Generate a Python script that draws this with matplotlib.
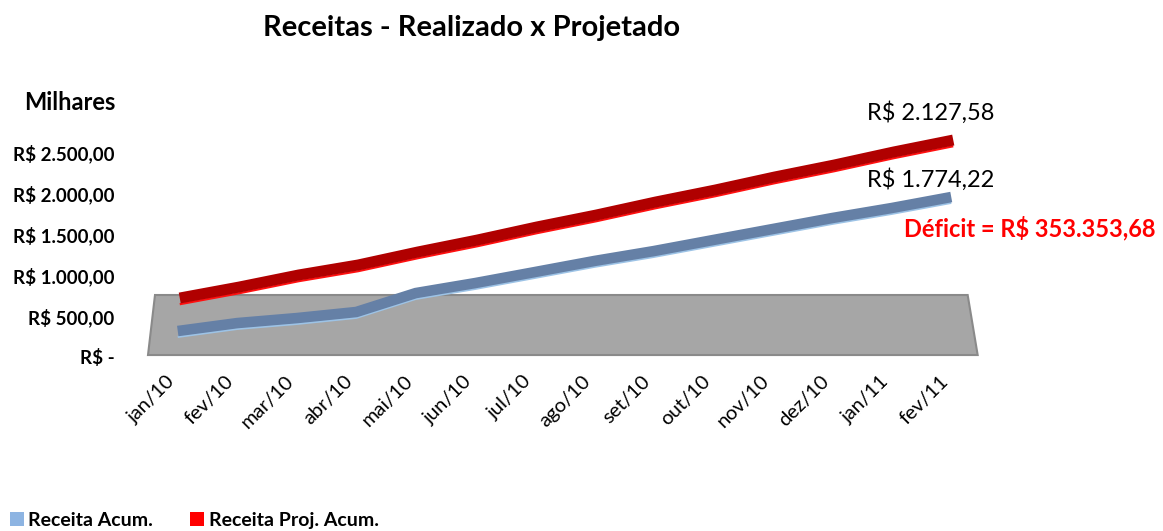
import matplotlib
matplotlib.use("Agg")
import matplotlib.pyplot as plt
from matplotlib.patches import Polygon, Patch
from matplotlib.transforms import offset_copy

plt.rcParams['font.family'] = ['Lato', 'DejaVu Sans']

months = ["jan/10", "fev/10", "mar/10", "abr/10", "mai/10", "jun/10", "jul/10",
          "ago/10", "set/10", "out/10", "nov/10", "dez/10", "jan/11", "fev/11"]
receita_acum = [140, 237, 298, 372, 603, 725, 859, 994, 1115, 1250, 1384, 1518, 1640, 1774.22]
receita_proj_acum = [201, 335, 482, 604, 762, 908, 1067, 1213, 1372, 1518, 1677, 1823, 1982, 2127.58]
y_ticks = [0, 500, 1000, 1500, 2000, 2500]
y_ticklabels = ["R$ -", "R$ 500,00", "R$ 1.000,00", "R$ 1.500,00", "R$ 2.000,00", "R$ 2.500,00"]
title = "Receitas - Realizado x Projetado"
deficit_text = "Déficit = R$ 353.353,68"


def brl(v):
    s = f"{v:,.2f}"
    s = s.replace(",", "X").replace(".", ",").replace("X", ".")
    return "R$ " + s


W, H = 1163, 531
fig = plt.figure(figsize=(W / 100, H / 100), dpi=100)
ax = fig.add_axes([148 / W, 174 / H, 833 / W, 246 / H])
ax.set_xlim(-0.5, 13.5)
ax.set_ylim(0, 3000)
for s in ax.spines.values():
    s.set_visible(False)

# floor (3D look)
floor = Polygon([(0.0, 0.008), (0.0084, 0.252), (0.984, 0.252), (0.996, 0.008)],
                closed=True, transform=ax.transAxes, facecolor="#A6A6A6",
                edgecolor="#8A8A8A", lw=1.5, zorder=1, clip_on=False)
ax.add_patch(floor)

x = list(range(len(months)))

# depth offsets (pixels) to mimic the 3D series depth
red_tr = offset_copy(ax.transData, fig, x=2, y=42.5, units='dots')
red_edge = offset_copy(ax.transData, fig, x=2, y=42.5 - 6.2, units='dots')
blue_tr = offset_copy(ax.transData, fig, x=0, y=14.5, units='dots')
blue_edge = offset_copy(ax.transData, fig, x=0, y=14.5 - 5.8, units='dots')

ax.plot(x, receita_proj_acum, color="#FF1010", lw=1.6, transform=red_edge,
        solid_capstyle='butt', zorder=3, clip_on=False)
ax.plot(x, receita_proj_acum, color="#B00000", lw=7.9, transform=red_tr,
        solid_capstyle='butt', solid_joinstyle='miter', zorder=4, clip_on=False)

ax.plot(x, receita_acum, color="#9DC3E6", lw=1.6, transform=blue_edge,
        solid_capstyle='butt', zorder=3, clip_on=False)
ax.plot(x, receita_acum, color="#6580A6", lw=7.6, transform=blue_tr,
        solid_capstyle='butt', solid_joinstyle='miter', zorder=4, clip_on=False)

# y axis
ax.set_yticks(y_ticks)
ax.set_yticklabels(y_ticklabels, fontsize=13.5, fontweight='bold')
ax.tick_params(axis='y', length=0, pad=24)

# x axis
ax.set_xticks(x)
ax.set_xticklabels(months, rotation=45, ha='right', va='top', fontsize=14.5)
ax.tick_params(axis='x', length=0, pad=11)
for lbl in ax.get_xticklabels():
    lbl.set_transform(lbl.get_transform() + offset_copy(fig.dpi_scale_trans, fig, x=3, y=0, units='dots') - fig.dpi_scale_trans)

# data labels
ax.annotate(brl(receita_proj_acum[-1]), xy=(x[-1], receita_proj_acum[-1]),
            xytext=(-21, 70.5), textcoords='offset pixels', ha='center', va='center',
            fontsize=17, color="#000000", annotation_clip=False)
ax.annotate(brl(receita_acum[-1]), xy=(x[-1], receita_acum[-1]),
            xytext=(-21, 31.5), textcoords='offset pixels', ha='center', va='center',
            fontsize=17, color="#000000", annotation_clip=False)
ax.annotate(deficit_text, xy=(x[-1], receita_acum[-1]),
            xytext=(79, -16.5), textcoords='offset pixels', ha='center', va='center',
            fontsize=17, fontweight='bold', color="#FF0000", annotation_clip=False)

# title and unit label
fig.text(472 / W, 1 - 28 / H, title, ha='center', va='center', fontsize=21, fontweight='bold')
fig.text(70 / W, 1 - 102 / H, "Milhares", ha='center', va='center', fontsize=17, fontweight='bold')

# legend
handles = [Patch(facecolor="#8DB4E2", edgecolor='none', label="Receita Acum."),
           Patch(facecolor="#FF0000", edgecolor='none', label="Receita Proj. Acum.")]
fig.legend(handles=handles, loc='lower left', bbox_to_anchor=(10 / W, 2 / H), ncol=2,
           frameon=False, prop={'weight': 'bold', 'size': 14}, handlelength=0.7,
           handleheight=0.7, handletextpad=0.25, columnspacing=1.9, borderpad=0,
           borderaxespad=0)

fig.savefig("out.png", dpi=100)
